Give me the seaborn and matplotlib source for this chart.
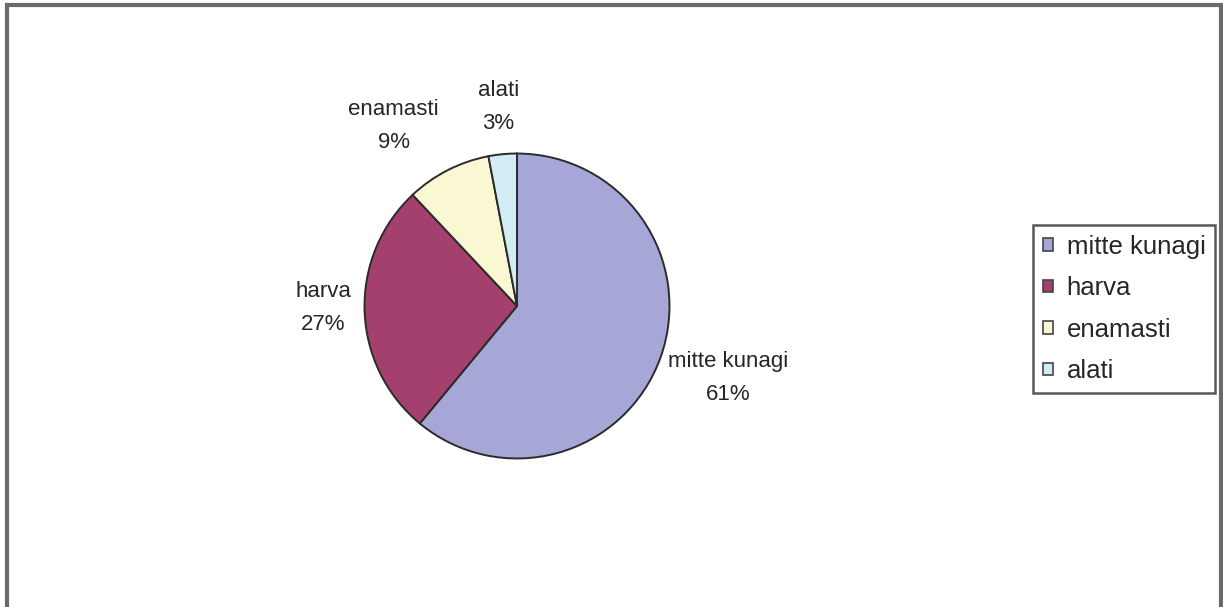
import matplotlib
matplotlib.use("Agg")
import matplotlib.pyplot as plt
from matplotlib.patches import Rectangle
import seaborn as sns
import numpy as np

# Survey answers and their shares (percent)
categories = ["mitte kunagi", "harva", "enamasti", "alati"]
shares = [61, 27, 9, 3]
colors = ["#A7A7D7", "#A3406E", "#FAF7D3", "#D3EDF5"]

sns.set_theme(style="white")
plt.rcParams["font.family"] = ["Liberation Sans", "DejaVu Sans"]

W, H = 1223, 607
fig = plt.figure(figsize=(W / 100, H / 100), dpi=100)
fig.patch.set_facecolor("white")

# Outer chart-area border
fig.add_artist(Rectangle((7 / W, -0.02), (1221 - 7) / W, 1.02 - 5 / H,
                         transform=fig.transFigure, fill=False,
                         edgecolor="#6a6a6a", linewidth=3))

cx, cy, r = 517, H - 306, 154
ax = fig.add_axes([(cx - r) / W, (cy - r) / H, 2 * r / W, 2 * r / H])

wedges, _ = ax.pie(shares, colors=colors, startangle=90, counterclock=False,
                   radius=1.0,
                   wedgeprops=dict(edgecolor="#2b2b2b", linewidth=1.4))
ax.set_xlim(-1.01, 1.01)
ax.set_ylim(-1.01, 1.01)
ax.set_aspect("equal")
ax.axis("off")

# Category labels placed outside each wedge: (distance, angle nudge in degrees)
label_place = [(1.46, 1.0), (1.27, -1.3), (1.43, 7.5), (1.31, 0.0)]
for w, name, val, (dist, nudge) in zip(wedges, categories, shares, label_place):
    ang = np.deg2rad((w.theta1 + w.theta2) / 2 + nudge)
    ax.text(dist * np.cos(ang), dist * np.sin(ang), f"{name}\n{val}%",
            ha="center", va="center", fontsize=16, color="#262626",
            linespacing=1.75, clip_on=False)

leg = fig.legend(wedges, categories, loc="upper left",
                 bbox_to_anchor=(1033 / W, 1 - 225 / H), borderaxespad=0,
                 frameon=True, fancybox=False, fontsize=18.5,
                 handlelength=0.38, handleheight=0.38, handletextpad=0.55,
                 labelspacing=0.68, borderpad=0.38, labelcolor="#262626")
leg.get_frame().set_edgecolor("#2e2e2e")
leg.get_frame().set_linewidth(1.8)
for h in leg.legend_handles:
    h.set_edgecolor("#444444")
    h.set_linewidth(1.2)

fig.savefig("out.png", dpi=100, facecolor="white")
